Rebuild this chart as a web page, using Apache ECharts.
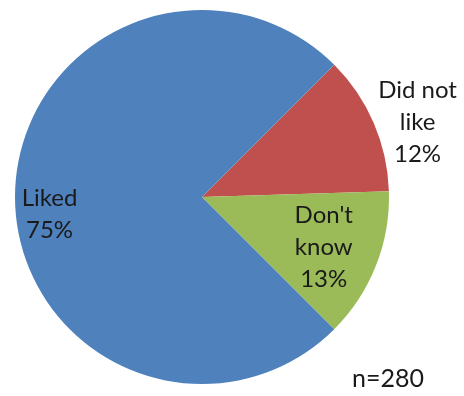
<!DOCTYPE html>
<html>
<head>
<meta charset="utf-8">
<script src="https://cdn.jsdelivr.net/npm/echarts@6/dist/echarts.min.js"></script>
<style>
  html, body { margin: 0; padding: 0; background: #fff; }
  #chart { width: 464px; height: 396px; }
</style>
</head>
<body>
<div id="chart"></div>
<script>
// Survey responses (percent), drawn clockwise starting at 45°
const categories = ['Did not\nlike', "Don't\nknow", 'Liked'];
const values = [12, 13, 75];
const colors = ['#C0504D', '#9BBB59', '#4F81BD'];
const sampleNote = 'n=280';

// per-slice label nudges from the default inside position
const labelOffsets = [[127, -36], [32, 15], [-56, 17]];

const chart = echarts.init(document.getElementById('chart'), null, { renderer: 'canvas' });

chart.setOption({
  animation: false,
  backgroundColor: '#ffffff',
  series: [{
    type: 'pie',
    center: [202, 197],
    radius: [0, 187],
    startAngle: 45,
    clockwise: true,
    silent: true,
    itemStyle: { borderWidth: 0 },
    label: {
      show: true,
      position: 'inside',
      fontFamily: 'Lato',
      fontSize: 24,
      lineHeight: 32,
      color: '#1a1a1a',
      align: 'center',
      formatter: p => p.name + '\n' + p.value + '%'
    },
    labelLine: { show: false },
    data: categories.map((c, i) => ({
      name: c,
      value: values[i],
      itemStyle: { color: colors[i] },
      label: { offset: labelOffsets[i] }
    }))
  }],
  graphic: [{
    type: 'text',
    left: 352,
    top: 366,
    style: {
      text: sampleNote,
      font: '25px Lato',
      fill: '#1a1a1a'
    }
  }]
});
</script>
</body>
</html>
